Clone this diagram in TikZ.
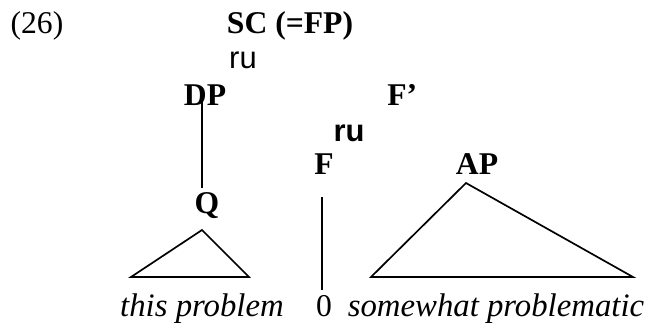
\documentclass[tikz,border=0pt]{standalone}
\usepackage{fontspec}
\setmainfont{Liberation Serif}
\setsansfont{Liberation Sans}
\usetikzlibrary{positioning}

\begin{document}
\begin{tikzpicture}[
    x=0.025cm, y=-0.025cm,
    every node/.style={inner sep=0pt,anchor=base},
    num/.style={font=\fontsize{22.5}{27}\selectfont},
    cat/.style={font=\fontsize{22.5}{27}\selectfont\bfseries},
    word/.style={font=\fontsize{23.3}{28}\selectfont\itshape},
    branch/.style={font=\fontsize{22}{27}\selectfont\sffamily},
    edge/.style={line width=1.2pt,line join=miter}
]
\useasboundingbox (0,0) rectangle (647,324);
% labels
\node[num] (ex) at (37,33) {(26)};
\node[cat] (sc) at (290,33) {SC (=FP)};
\node[branch] (ru1) at (243,68) {ru};
\node[cat] (dp) at (205,105) {DP};
\node[cat,anchor=base west] (fbar) at (387,105) {F'};
\node[branch,font=\fontsize{22}{27}\selectfont\sffamily\bfseries] (ru2) at (349,141) {ru};
\node[cat] (f) at (324,174) {F};
\node[cat] (ap) at (477,174) {AP};
\node[cat] (q) at (207,213) {Q};
\node[word] (this) at (202,316) {this problem};
\node[num] (zero) at (324,316) {0};
\node[word] (somewhat) at (496,316) {somewhat problematic};
% lines
\coordinate (dptop) at (202,101);
\coordinate (dpbot) at (202,188);
\coordinate (ftop) at (322,197);
\coordinate (fbot) at (322,290);
\draw[edge] (dptop) -- (dpbot);
\draw[edge] (ftop) -- (fbot);
% triangles
\draw[edge] (202,230) -- (131,277) -- (249,277) -- cycle;
\draw[edge] (466,183) -- (371,277) -- (633,277) -- cycle;
\end{tikzpicture}
\end{document}
